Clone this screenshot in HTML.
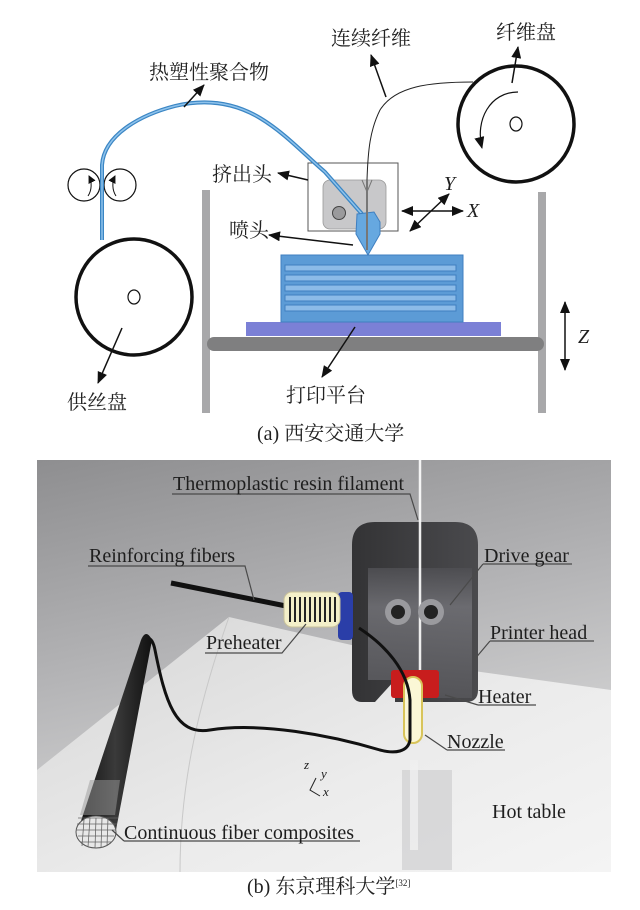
<!DOCTYPE html>
<html><head><meta charset="utf-8"><style>
html,body{margin:0;padding:0;background:#fff;}
svg{display:block;}
.cn{font-family:"Liberation Serif","Noto Serif CJK SC","Noto Sans CJK SC",serif;font-size:20px;fill:#222;}
.en{font-family:"Liberation Serif",serif;font-size:20px;fill:#1e1e1e;}
</style></head><body>
<svg width="640" height="910" viewBox="0 0 640 910" xmlns="http://www.w3.org/2000/svg">
<defs>
<marker id="ah" markerWidth="8" markerHeight="8" refX="7" refY="4" orient="auto" markerUnits="userSpaceOnUse"><path d="M0,0 L8,4 L0,8 Z" fill="#111"/></marker>
<marker id="ah2" markerWidth="12" markerHeight="10" refX="11" refY="5" orient="auto" markerUnits="userSpaceOnUse"><path d="M0,0 L12,5 L0,10 Z" fill="#111"/></marker>
<linearGradient id="bg" x1="0" y1="0" x2="0.3" y2="1"><stop offset="0" stop-color="#8e8e90"/><stop offset="0.5" stop-color="#b4b4b6"/><stop offset="1" stop-color="#dcdcdc"/></linearGradient>
<linearGradient id="tbl" x1="0" y1="0" x2="1" y2="1"><stop offset="0" stop-color="#d6d6d6"/><stop offset="0.6" stop-color="#ececec"/><stop offset="1" stop-color="#f4f4f4"/></linearGradient>
<linearGradient id="head" x1="0" y1="0" x2="1" y2="0"><stop offset="0" stop-color="#333335"/><stop offset="1" stop-color="#4a4a4d"/></linearGradient>
<linearGradient id="face" x1="0" y1="0" x2="0" y2="1"><stop offset="0" stop-color="#4e4e52"/><stop offset="0.3" stop-color="#6f6f74"/><stop offset="1" stop-color="#56565a"/></linearGradient>
<linearGradient id="cable" x1="0" y1="0" x2="1" y2="0"><stop offset="0" stop-color="#111"/><stop offset="0.5" stop-color="#3a3a3a"/><stop offset="1" stop-color="#111"/></linearGradient>
</defs>

<!-- ===== (a) ===== -->
<rect x="202" y="190" width="8" height="223" fill="#a8a8aa"/>
<rect x="538" y="192" width="8" height="221" fill="#a8a8aa"/>
<rect x="207" y="337" width="337" height="14" rx="7" fill="#7f7f80"/>
<rect x="246" y="322" width="255" height="14" fill="#7b80d6"/>
<rect x="281" y="255" width="182" height="67" fill="#5c9bd6" stroke="#3f7fc0" stroke-width="1"/>
<g fill="#8cbbe8" stroke="#3f7fc0" stroke-width="1">
<rect x="285" y="265" width="171" height="6"/>
<rect x="285" y="275" width="171" height="6"/>
<rect x="285" y="285" width="171" height="6"/>
<rect x="285" y="295" width="171" height="6"/>
<rect x="285" y="305" width="171" height="6"/>
</g>
<circle cx="134" cy="297" r="58" fill="none" stroke="#111" stroke-width="3.5"/>
<ellipse cx="134" cy="297" rx="6" ry="7" fill="none" stroke="#111" stroke-width="1.2"/>
<circle cx="516" cy="124" r="58" fill="none" stroke="#111" stroke-width="3.5"/>
<ellipse cx="516" cy="124" rx="6" ry="7" fill="none" stroke="#111" stroke-width="1.2"/>
<path d="M518,92 C490,92 475,120 482,148" fill="none" stroke="#111" stroke-width="1.2" marker-end="url(#ah2)"/>
<circle cx="84" cy="185" r="16" fill="none" stroke="#111" stroke-width="1.2"/>
<circle cx="120" cy="185" r="16" fill="none" stroke="#111" stroke-width="1.2"/>
<path d="M88,196 C92,190 92,182 89,176" fill="none" stroke="#111" stroke-width="1" marker-end="url(#ah)"/>
<path d="M116,196 C112,190 112,182 115,176" fill="none" stroke="#111" stroke-width="1" marker-end="url(#ah)"/>
<rect x="308" y="163" width="90" height="68" fill="#fff" stroke="#555" stroke-width="1"/>
<rect x="323" y="180" width="63" height="49" rx="7" fill="#c8c8ca" stroke="#999" stroke-width="0.8"/>
<circle cx="339" cy="213" r="6.5" fill="#9a9a9c" stroke="#444" stroke-width="1"/>
<path d="M473,82 C430,82 395,86 380,110 C370,130 368,150 367,180" fill="none" stroke="#222" stroke-width="1"/>
<path d="M102,240 L102,165 C104,135 140,115 175,106 C200,100 230,100 260,118 C285,133 305,155 325,172 L362,214" fill="none" stroke="#3b86c4" stroke-width="4"/>
<path d="M102,240 L102,165 C104,135 140,115 175,106 C200,100 230,100 260,118 C285,133 305,155 325,172 L362,214" fill="none" stroke="#8fc3ec" stroke-width="1.5"/>
<path d="M357,214 L374,212 L380,222 L380,234 L368,255 L356,234 Z" fill="#66a8e0" stroke="#3f7fc0" stroke-width="1"/>
<line x1="367" y1="180" x2="367" y2="250" stroke="#777" stroke-width="2"/>
<path d="M362,180 L367,192 L372,180" fill="none" stroke="#777" stroke-width="1"/>
<g stroke="#111" stroke-width="1.5" fill="none">
<line x1="184" y1="107" x2="204" y2="85" marker-end="url(#ah2)"/>
<line x1="386" y1="97" x2="371" y2="55" marker-end="url(#ah2)"/>
<line x1="512" y1="83" x2="518" y2="47" marker-end="url(#ah2)"/>
<line x1="308" y1="180" x2="278" y2="173" marker-end="url(#ah2)"/>
<line x1="353" y1="245" x2="269" y2="235" marker-end="url(#ah2)"/>
<line x1="122" y1="328" x2="98" y2="383" marker-end="url(#ah2)"/>
<line x1="355" y1="327" x2="322" y2="377" marker-end="url(#ah2)"/>
<line x1="565" y1="336" x2="565" y2="302" marker-end="url(#ah2)"/>
<line x1="565" y1="336" x2="565" y2="370" marker-end="url(#ah2)"/>
<line x1="430" y1="211" x2="402" y2="211" marker-end="url(#ah2)"/>
<line x1="430" y1="211" x2="463" y2="211" marker-end="url(#ah2)"/>
<line x1="430" y1="212" x2="410" y2="231" marker-end="url(#ah2)"/>
<line x1="430" y1="212" x2="449" y2="194" marker-end="url(#ah2)"/>
</g>
<text class="cn" x="149" y="79">热塑性聚合物</text>
<text class="cn" x="331" y="45">连续纤维</text>
<text class="cn" x="496" y="39">纤维盘</text>
<text class="cn" x="212" y="181">挤出头</text>
<text class="cn" x="229" y="237">喷头</text>
<text class="cn" x="67" y="409">供丝盘</text>
<text class="cn" x="286" y="402">打印平台</text>
<text class="en" x="578" y="343" font-style="italic" font-size="18">Z</text>
<text class="en" x="467" y="217" font-style="italic" font-size="16">X</text>
<text class="en" x="444" y="190" font-style="italic" font-size="16">Y</text>
<text class="cn" x="257" y="440" font-size="17">(a) 西安交通大学</text>

<!-- ===== (b) ===== -->
<rect x="37" y="460" width="574" height="412" fill="url(#bg)"/>
<path d="M37,770 L229,617 L452,668 L611,690 L611,872 L37,872 Z" fill="url(#tbl)"/>
<path d="M229,617 C200,700 180,780 180,872" fill="none" stroke="#c8c8c8" stroke-width="1"/>
<rect x="402" y="770" width="50" height="100" fill="#cfcfd0" opacity="0.7"/>
<rect x="410" y="760" width="8" height="90" fill="#f0f0f0" opacity="0.8"/>
<line x1="420" y1="460" x2="420" y2="690" stroke="#f4f4f4" stroke-width="2.5"/>
<line x1="171" y1="583" x2="286" y2="606" stroke="#111" stroke-width="5"/>
<path d="M352,545 Q352,522 375,522 L455,522 Q478,522 478,545 L478,690 Q478,702 466,702 L395,702 L395,680 L375,702 L362,702 Q352,702 352,690 Z" fill="url(#head)"/>
<path d="M368,568 L472,568 L472,698 L395,698 L395,680 L368,680 Z" fill="url(#face)" opacity="0.9"/>
<line x1="420" y1="522" x2="420" y2="690" stroke="#ededed" stroke-width="2.5"/>
<circle cx="398" cy="612" r="13" fill="#9a9a9e"/><circle cx="398" cy="612" r="7" fill="#222"/>
<circle cx="431" cy="612" r="13" fill="#9a9a9e"/><circle cx="431" cy="612" r="7" fill="#222"/>
<rect x="338" y="592" width="15" height="48" rx="4" fill="#2a3ea8"/>
<rect x="284" y="592" width="56" height="35" rx="8" fill="#f3efc9" stroke="#c9c29a" stroke-width="1"/>
<g stroke="#222" stroke-width="2">
<line x1="290" y1="597" x2="290" y2="622"/><line x1="295" y1="597" x2="295" y2="622"/><line x1="300" y1="597" x2="300" y2="622"/><line x1="305" y1="597" x2="305" y2="622"/><line x1="310" y1="597" x2="310" y2="622"/><line x1="315" y1="597" x2="315" y2="622"/><line x1="320" y1="597" x2="320" y2="622"/><line x1="325" y1="597" x2="325" y2="622"/><line x1="330" y1="597" x2="330" y2="622"/><line x1="335" y1="597" x2="335" y2="622"/>
</g>
<rect x="391" y="670" width="48" height="28" rx="3" fill="#c81d1d"/>
<rect x="404" y="677" width="18" height="66" rx="9" fill="#fbf7d6" stroke="#d8c45a" stroke-width="2"/>
<path d="M359,628 C385,645 408,670 410,700 L410,740 C408,752 395,754 380,750 C330,735 260,722 210,730 C175,736 165,700 155,650 C152,635 145,635 142,648" fill="none" stroke="#111" stroke-width="3"/>
<path d="M141,640 Q146,628 152,640 L116,830 L78,830 Z" fill="url(#cable)"/>
<g>
<ellipse cx="96" cy="832" rx="20" ry="16" fill="#e8e8e8" stroke="#555" stroke-width="1"/>
<path d="M78,818 L118,818 M77,824 L117,824 M76,830 L116,830 M78,836 L114,836 M80,842 L112,842 M84,820 L82,846 M90,818 L88,847 M96,818 L95,848 M102,818 L101,848 M108,818 L107,846" stroke="#666" stroke-width="0.8" fill="none"/>
<path d="M80,815 L115,815 L120,780 L90,780 Z" fill="#999" opacity="0.5"/>
</g>
<g stroke="#4a4a4a" stroke-width="1.2" fill="none">
<path d="M172,494 L410,494 L418,520"/>
<path d="M88,566 L245,566 L254,600"/>
<path d="M205,653 L282,653 L306,624"/>
<path d="M483,564 L572,564 M483,564 L450,605"/>
<path d="M490,641 L594,641 M490,641 L474,660"/>
<path d="M478,705 L536,705 M478,705 L445,695"/>
<path d="M447,750 L505,750 M447,750 L425,735"/>
<path d="M124,841 L360,841 M124,841 L112,830"/>
</g>
<g class="en">
<text x="173" y="490">Thermoplastic resin filament</text>
<text x="89" y="562">Reinforcing fibers</text>
<text x="484" y="562">Drive gear</text>
<text x="206" y="649">Preheater</text>
<text x="490" y="639">Printer head</text>
<text x="478" y="703">Heater</text>
<text x="447" y="748">Nozzle</text>
<text x="492" y="818">Hot table</text>
<text x="124" y="839">Continuous fiber composites</text>
<text x="304" y="769" font-style="italic" font-size="13">z</text>
<text x="321" y="778" font-style="italic" font-size="13">y</text>
<text x="323" y="796" font-style="italic" font-size="13">x</text>
</g>
<path d="M316,778 L310,790 L320,796" fill="none" stroke="#222" stroke-width="1"/>
<text class="cn" x="247" y="893" font-size="17">(b) 东京理科大学<tspan font-size="9" dy="-7">[32]</tspan></text>
</svg>
</body></html>
